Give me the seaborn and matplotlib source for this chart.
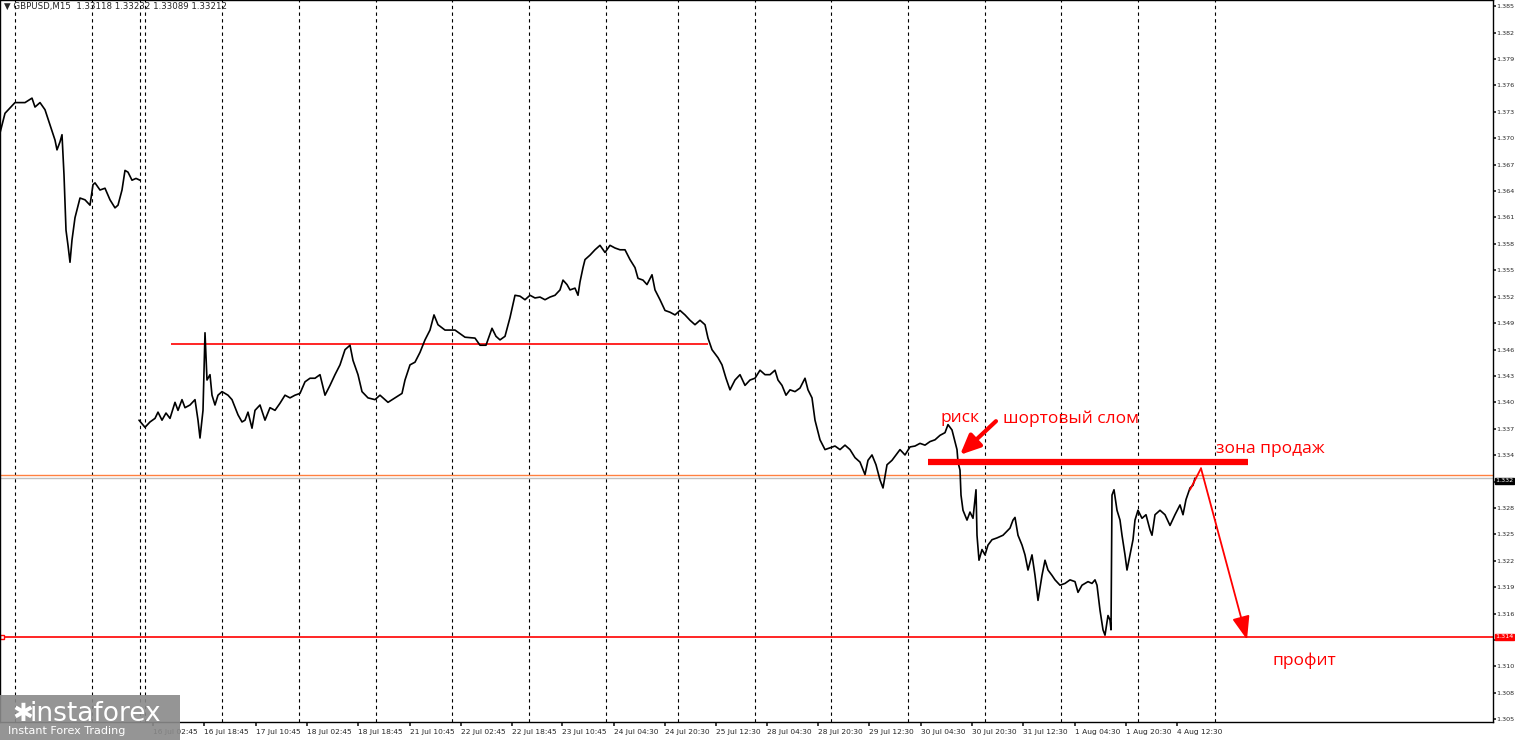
import matplotlib
matplotlib.use("Agg")
import matplotlib.pyplot as plt
import seaborn as sns
import pandas as pd

sns.set_theme(style="white")
plt.rcParams['font.family'] = ['DejaVu Sans']

# (bar position, close price) readings
seg1 = [(0,1.3713),(5,1.3735),(15,1.3747),(25,1.3747),(32,1.3752),(35,1.3742),(40,1.3747),(45,1.3739),(50,1.3722),(55,1.3705),(57,1.3694),(60,1.3703),(62,1.3711),(64,1.3666),(66,1.3604),(68,1.3587),(70,1.3568),(72,1.3593),(75,1.3618),(80,1.3640),(85,1.3638),(90,1.3632),(93,1.3655),(95,1.3657),(100,1.3649),(105,1.3651),(110,1.3638),(115,1.3629),(118,1.3632),(122,1.3649),(125,1.3671),(128,1.3669),(132,1.3660),(136,1.3662),(140,1.3660)]

seg2a = [(139,1.3391),(145,1.3383),(150,1.3389),(155,1.3393),(158,1.3400),(162,1.3391),(166,1.3399),(170,1.3393),(175,1.3411),(178,1.3402),(182,1.3414),(185,1.3405),(190,1.3408),(195,1.3414),(198,1.3391),(200,1.3371),(203,1.3402),(205,1.3489),(207,1.3436),(210,1.3442),(212,1.3419),(215,1.3408),(218,1.3419),(222,1.3423),(228,1.3419),(232,1.3414),(238,1.3397),(242,1.3389),(245,1.3391),(248,1.3400),(252,1.3382),(255,1.3402),(260,1.3408),(265,1.3391),(270,1.3405),(275,1.3402),(280,1.3410),(285,1.3419),(290,1.3416),(295,1.3419),(300,1.3421),(305,1.3434),(310,1.3438),(315,1.3438),(320,1.3442),(325,1.3419),(330,1.3430),(335,1.3442),(340,1.3453),(345,1.3470),(350,1.3475),(353,1.3458),(358,1.3442),(362,1.3423),(368,1.3416),(375,1.3414),(380,1.3419),(388,1.3411),(395,1.3416),(402,1.3421),(405,1.3436),(410,1.3453),(415,1.3456),(420,1.3467),(425,1.3481),(430,1.3492),(434,1.3509),(438,1.3498),(445,1.3492),(455,1.3492),(465,1.3484),(475,1.3483),(480,1.3475)]

seg2b = [(486,1.3475),(492,1.3494),(496,1.3485),(500,1.3481),(505,1.3485),(510,1.3506),(515,1.3531),(520,1.3530),(525,1.3526),(530,1.3531),(535,1.3528),(540,1.3529),(545,1.3526),(550,1.3529),(555,1.3531),(560,1.3537),(563,1.3548),(567,1.3543),(570,1.3537),(575,1.3539),(578,1.3531),(580,1.3546),(583,1.3562),(585,1.3571),(590,1.3576),(595,1.3582),(600,1.3587),(605,1.3579),(610,1.3587),(615,1.3584),(620,1.3582),(625,1.3582),(630,1.3571),(635,1.3562),(638,1.3550),(643,1.3548),(647,1.3543),(652,1.3554),(655,1.3537),(660,1.3526),(665,1.3514),(670,1.3512),(675,1.3509),(680,1.3514),(685,1.3509),(690,1.3503),(695,1.3498),(700,1.3503),(705,1.3498),(708,1.3483),(712,1.3470),(718,1.3461),(722,1.3453),(726,1.3438),(730,1.3425),(735,1.3436),(740,1.3442),(745,1.3430),(750,1.3436),(755,1.3438),(760,1.3447),(765,1.3442),(770,1.3442),(775,1.3447),(778,1.3436),(782,1.3430),(786,1.3419),(790,1.3425),(795,1.3423),(800,1.3427),(805,1.3438),(808,1.3425),(812,1.3416)]

seg2c = [(815,1.3391),(820,1.3369),(825,1.3358),(830,1.3360),(835,1.3362),(840,1.3358),(845,1.3363),(850,1.3358),(855,1.3349),(860,1.3344),(865,1.3330),(868,1.3346),(872,1.3352),(876,1.3341),(880,1.3324),(883,1.3315),(887,1.3341),(892,1.3346),(896,1.3352),(900,1.3358),(905,1.3352),(910,1.3361),(915,1.3362),(920,1.3365),(925,1.3363),(930,1.3367),(935,1.3369),(940,1.3374),(945,1.3377),(948,1.3386),(952,1.3380),(955,1.3367),(957,1.3358),(958,1.3344),(960,1.3335),(961,1.3307),(963,1.3290),(967,1.3279),(970,1.3288),(973,1.3281),(976,1.3313),(977,1.3262),(979,1.3234),(982,1.3246),(985,1.3240),(988,1.3251),(992,1.3257),(997,1.3259),(1003,1.3262),(1010,1.3270),(1013,1.3279),(1015,1.3282),(1018,1.3262),(1022,1.3251),(1025,1.3240),(1028,1.3223),(1032,1.3240),(1035,1.3217),(1038,1.3189),(1042,1.3217),(1045,1.3234),(1048,1.3223),(1052,1.3217),(1055,1.3212),(1060,1.3206),(1065,1.3208),(1070,1.3212),(1075,1.3210),(1078,1.3198),(1082,1.3206),(1088,1.3210),(1092,1.3208),(1095,1.3212),(1097,1.3206),(1100,1.3178),(1103,1.3156),(1105,1.3150),(1108,1.3172),(1110,1.3167),(1111,1.3156)]

seg2d = [(1112,1.3307),(1114,1.3313),(1117,1.3290),(1120,1.3279),(1122,1.3262),(1125,1.3240),(1127,1.3223),(1130,1.3240),(1133,1.3257),(1135,1.3279),(1138,1.3290),(1142,1.3281),(1146,1.3285),(1150,1.3268),(1152,1.3262),(1155,1.3285),(1160,1.3290),(1165,1.3285),(1170,1.3273),(1175,1.3285),(1180,1.3296),(1183,1.3285),(1186,1.3302),(1190,1.3315),(1193,1.3318),(1195,1.3326)]

ytick_vals = [1.38550,1.38254,1.37958,1.37662,1.37366,1.37070,1.36774,1.36478,1.36182,1.35886,1.35590,1.35294,1.34998,1.34702,1.34406,1.34110,1.33814,1.33518,1.33222,1.32926,1.32630,1.32334,1.32038,1.31742,1.31446,1.31150,1.30854,1.30558]
ytick_labels = ["1.385","1.382","1.379","1.376","1.373","1.370","1.367","1.364","1.361","1.358","1.355","1.352","1.349","1.346","1.343","1.340","1.337","1.334","","1.328","1.325","1.322","1.319","1.316","","1.310","1.308","1.305"]
time_pos = [153,204,256,307,358,410,461,512,562,614,665,716,767,818,869,921,972,1023,1075,1126,1177]
time_labels = ["16 Jul 02:45","16 Jul 18:45","17 Jul 10:45","18 Jul 02:45","18 Jul 18:45","21 Jul 10:45","22 Jul 02:45","22 Jul 18:45","23 Jul 10:45","24 Jul 04:30","24 Jul 20:30","25 Jul 12:30","28 Jul 04:30","28 Jul 20:30","29 Jul 12:30","30 Jul 04:30","30 Jul 20:30","31 Jul 12:30","1 Aug 04:30","1 Aug 20:30","4 Aug 12:30"]
grid_pos = [15,92,140,145,222,299,376,452,529,606,678,755,831,908,985,1061,1138,1215]

df1 = pd.DataFrame(seg1, columns=["x", "p"])
df2 = pd.DataFrame(seg2a + seg2b + seg2c + seg2d, columns=["x", "p"])

fig = plt.figure(figsize=(15.15, 7.4), dpi=100)
ax = fig.add_axes([0.0, 0.0243, 1493/1515, 0.9757])
ax.set_xlim(0, 1493)
ax.set_ylim(1.3862 - 722*0.0001121, 1.3862)

for g in grid_pos:
    ax.axvline(g, color="black", lw=0.8, ls=(0, (3, 3)), zorder=1)

sns.lineplot(data=df1, x="x", y="p", ax=ax, color="black", lw=1.2, sort=False, zorder=3)
sns.lineplot(data=df2, x="x", y="p", ax=ax, color="black", lw=1.2, sort=False, zorder=3)

ax.hlines(1.3476, 171, 708, color="red", lw=1.2, zorder=2)
ax.axhline(1.3148, color="red", lw=1.2, zorder=2)
ax.plot([2], [1.3148], marker="s", ms=3, mfc="white", mec="red")
ax.axhline(1.3330, color="#ff8040", lw=1.0, zorder=2)
ax.axhline(1.3326, color="#c0c0c0", lw=1.0, zorder=2)
ax.hlines(1.3344, 928, 1248, color="red", lw=4.5, zorder=4)

ax.plot([1190, 1201], [1.3313, 1.3337], color="red", lw=1.3, zorder=4)
ax.annotate("", xy=(1247, 1.3145), xytext=(1201, 1.3337),
            arrowprops=dict(arrowstyle="-|>,head_length=1.2,head_width=0.45", color="red", lw=1.3,
                            shrinkA=0, shrinkB=0), zorder=4)
ax.annotate("", xy=(958, 1.3350), xytext=(998, 1.3392),
            arrowprops=dict(arrowstyle="-|>,head_length=1.0,head_width=0.45", color="red", lw=3), zorder=5)

ax.text(940, 1.3393, "риск", color="red", fontsize=12.5, va="center", family=["Open Sans"])
ax.text(1003, 1.3393, "шортовый слом", color="red", fontsize=12.5, va="center", family=["Open Sans"])
ax.text(1216, 1.3359, "зона продаж", color="red", fontsize=12.5, va="center", family=["Open Sans"])
ax.text(1272, 1.3121, "профит", color="red", fontsize=12.5, va="center", family=["Open Sans"])

ax.yaxis.tick_right()
ax.set_yticks(ytick_vals)
ax.set_yticklabels(ytick_labels, fontsize=4.6)
ax.tick_params(axis="y", length=2, pad=0.5, right=True, direction="out")
ax.set_xticks(time_pos)
ax.set_xticklabels(time_labels, fontsize=5.4, ha="left")
ax.tick_params(axis="x", length=3, pad=2, bottom=True, direction="out")
ax.set_xlabel(""); ax.set_ylabel("")
for s in ax.spines.values():
    s.set_color("black"); s.set_linewidth(1)
ax.grid(False)

def tag(y, txt, fc, tc):
    ax.text(1.0016, y, txt, transform=ax.get_yaxis_transform(), fontsize=4.6,
            va="center", ha="left", color=tc,
            bbox=dict(boxstyle="square,pad=0.1", fc=fc, ec=fc), zorder=10, clip_on=False)
tag(1.3323, "1.332", "black", "white")
tag(1.3148, "1.314", "red", "white")

ax.text(4, 1.3855, "▼ GBPUSD,M15  1.33118 1.33232 1.33089 1.33212", fontsize=6.2, va="center")

fig.patches.append(plt.Rectangle((0, 0), 180/1515, 45/740, transform=fig.transFigure, fc="#8a8a8a", ec="none", alpha=0.9, zorder=20))
fig.text(30/1515, 26/740, "instaforex", color="white", fontsize=19, va="center", zorder=21)
fig.text(8/1515, 9/740, "Instant Forex Trading", color="white", fontsize=8, va="center", zorder=21)
fig.text(12/1515, 26/740, "✱", color="white", fontsize=18, va="center", zorder=21)

fig.savefig("out.png", dpi=100, facecolor="white")
